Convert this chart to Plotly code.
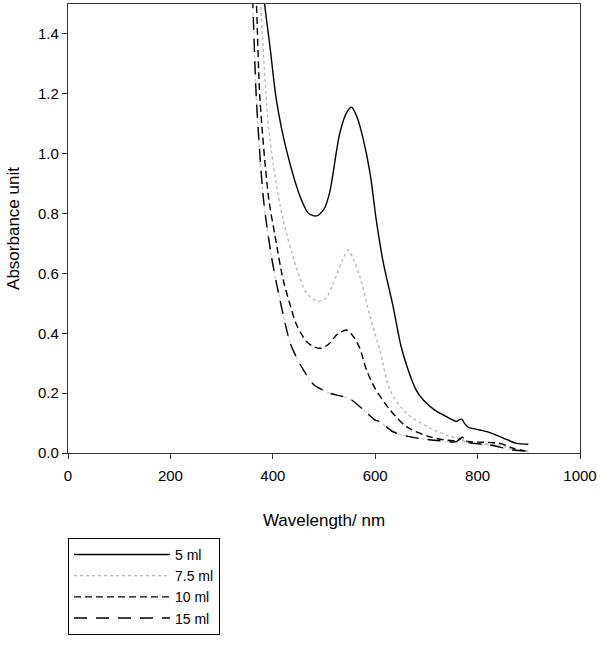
import plotly.graph_objects as go

# ---- data ----
wl_5 = [372, 384, 395, 407, 427, 456, 470, 485, 500, 511, 531, 545, 554, 565, 577, 590, 603, 616, 635, 650, 662, 680, 694, 715, 740, 759, 765, 769, 775, 782, 804, 824, 850, 876, 899]
abs_5 = [1.72, 1.50, 1.35, 1.18, 1.01, 0.845, 0.80, 0.792, 0.815, 0.87, 1.07, 1.14, 1.155, 1.12, 1.046, 0.934, 0.767, 0.634, 0.489, 0.36, 0.29, 0.21, 0.177, 0.145, 0.121, 0.106, 0.112, 0.113, 0.098, 0.086, 0.077, 0.068, 0.05, 0.032, 0.029]

wl_75 = [366, 376, 390, 402, 420, 446, 466, 489, 505, 518, 535, 547, 558, 570, 590, 609, 629, 661, 707, 740, 759, 765, 772, 792, 844, 870, 899]
abs_75 = [1.75, 1.50, 1.12, 0.95, 0.78, 0.62, 0.534, 0.506, 0.52, 0.567, 0.64, 0.678, 0.645, 0.589, 0.455, 0.344, 0.21, 0.133, 0.083, 0.06, 0.049, 0.05, 0.04, 0.033, 0.027, 0.012, 0.004]

wl_10 = [360, 368, 375, 392, 405, 420, 433, 446, 466, 480, 495, 510, 525, 544, 557, 570, 583, 600, 629, 661, 707, 752, 765, 770, 776, 792, 844, 869, 899]
abs_10 = [1.75, 1.50, 1.18, 0.85, 0.72, 0.58, 0.50, 0.43, 0.372, 0.355, 0.35, 0.365, 0.395, 0.411, 0.39, 0.35, 0.277, 0.215, 0.144, 0.088, 0.054, 0.041, 0.045, 0.054, 0.04, 0.037, 0.032, 0.016, 0.005]

wl_15 = [355, 361, 368, 382, 398, 414, 434, 446, 460, 479, 511, 538, 554, 577, 600, 609, 635, 674, 726, 759, 765, 769, 775, 792, 824, 869, 899]
abs_15 = [1.75, 1.50, 1.18, 0.845, 0.65, 0.511, 0.367, 0.32, 0.277, 0.23, 0.2, 0.188, 0.177, 0.144, 0.11, 0.105, 0.071, 0.052, 0.041, 0.038, 0.048, 0.049, 0.038, 0.032, 0.027, 0.01, 0.007]

series_names = ["5 ml", "7.5 ml", "10 ml", "15 ml"]
x_ticks = [0, 200, 400, 600, 800, 1000]
y_ticks = [0.0, 0.2, 0.4, 0.6, 0.8, 1.0, 1.2, 1.4]

FONT = "Liberation Sans, Arial, sans-serif"
NARROW = "Liberation Sans Narrow, Arial Narrow, Liberation Sans, sans-serif"

fig = go.Figure()
fig.add_trace(go.Scatter(x=wl_5, y=abs_5, name=series_names[0], mode="lines",
                         line=dict(color="black", width=1.4, shape="spline", smoothing=0.8)))
fig.add_trace(go.Scatter(x=wl_75, y=abs_75, name=series_names[1], mode="lines",
                         line=dict(color="#b8b8b8", width=1.4, dash="dot", shape="spline", smoothing=0.8)))
fig.add_trace(go.Scatter(x=wl_10, y=abs_10, name=series_names[2], mode="lines",
                         line=dict(color="black", width=1.4, dash="7px,4px", shape="spline", smoothing=0.8)))
# 15 ml: grey dots underneath, black long dashes on top
fig.add_trace(go.Scatter(x=wl_15, y=abs_15, name=series_names[3], mode="lines", showlegend=False,
                         legendgroup="g15", hoverinfo="skip",
                         line=dict(color="#c8c8c8", width=1.2, dash="dot", shape="spline", smoothing=0.8)))
fig.add_trace(go.Scatter(x=wl_15, y=abs_15, name=series_names[3], mode="lines",
                         legendgroup="g15",
                         line=dict(color="black", width=1.4, dash="13px,9px", shape="spline", smoothing=0.8)))

axis_common = dict(showline=True, linecolor="#333", linewidth=1.2, mirror=True,
                   ticks="outside", ticklen=5, tickcolor="#333", tickwidth=1,
                   showgrid=False, zeroline=False,
                   tickfont=dict(family=NARROW, size=15, color="black"))

fig.update_xaxes(range=[0, 1000], tickvals=x_ticks, ticklabelstandoff=4,
                 title=dict(text="Wavelength/ nm", font=dict(family=FONT, size=17, color="black"), standoff=31),
                 **axis_common)
fig.update_yaxes(range=[0, 1.5], tickvals=y_ticks, tickformat=".1f",
                 title=dict(text="Absorbance unit", font=dict(family=FONT, size=17, color="black"), standoff=14),
                 **axis_common)

fig.update_layout(
    width=600, height=650,
    margin=dict(l=68, r=20, t=4, b=197, autoexpand=False),
    plot_bgcolor="white", paper_bgcolor="white",
    font=dict(family=FONT, color="black"),
    showlegend=True,
    legend=dict(x=0.0, y=-0.189, xanchor="left", yanchor="top",
                bordercolor="black", borderwidth=1, bgcolor="white",
                font=dict(family=NARROW, size=14, color="black"),
                itemwidth=96, tracegroupgap=0),
)

fig.write_html("out.html", config={"displayModeBar": False},
               post_script="document.body.style.margin='0px';")
